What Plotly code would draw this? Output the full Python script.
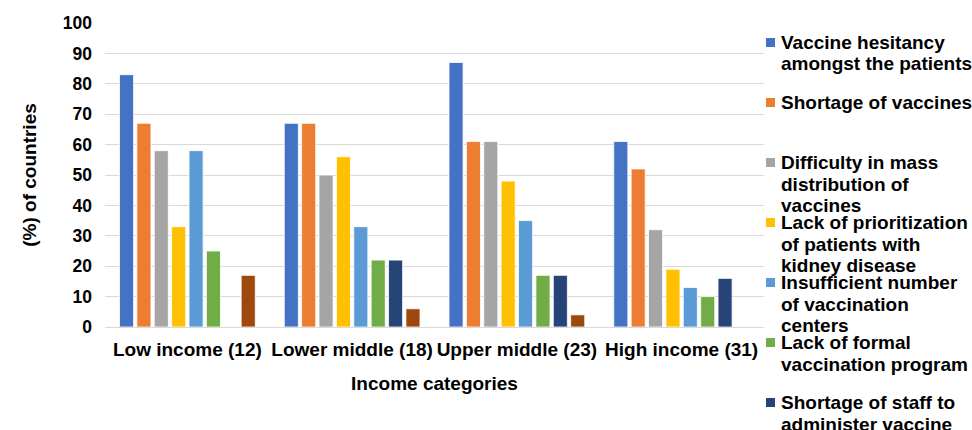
import plotly.graph_objects as go

categories = ["Low income (12)", "Lower middle (18)", "Upper middle (23)", "High income (31)"]

series_names = [
    "Vaccine hesitancy amongst the patients",
    "Shortage of vaccines",
    "Difficulty in mass distribution of vaccines",
    "Lack of prioritization of patients with kidney disease",
    "Insufficient number of vaccination centers",
    "Lack of formal vaccination program",
    "Shortage of staff to administer vaccine",
    "Other",
]

legend_lines = [
    ["Vaccine hesitancy", "amongst the patients"],
    ["Shortage of vaccines"],
    ["Difficulty in mass", "distribution of", "vaccines"],
    ["Lack of prioritization", "of patients with", "kidney disease"],
    ["Insufficient number", "of vaccination", "centers"],
    ["Lack of formal", "vaccination program"],
    ["Shortage of staff to", "administer vaccine"],
]

vaccine_hesitancy = [83, 67, 87, 61]
shortage_vaccines = [67, 67, 61, 52]
mass_distribution = [58, 50, 61, 32]
lack_prioritization = [33, 56, 48, 19]
insufficient_centers = [58, 33, 35, 13]
lack_formal_program = [25, 22, 17, 10]
shortage_staff = [0, 22, 17, 16]
other = [17, 6, 4, 0]

series_values = [vaccine_hesitancy, shortage_vaccines, mass_distribution, lack_prioritization,
                 insufficient_centers, lack_formal_program, shortage_staff, other]

colors = ["#4472C4", "#ED7D31", "#A5A5A5", "#FFC000", "#5B9BD5", "#70AD47", "#264478", "#9E480E"]

y_ticks = list(range(0, 101, 10))

W, H = 972, 430
ML, MR, MT, MB = 105, 208, 23, 103
FONT = "Liberation Sans, Arial, sans-serif"

fig = go.Figure()
for name, vals, col in zip(series_names, series_values, colors):
    fig.add_trace(go.Bar(
        x=categories, y=vals, name=name,
        marker=dict(color=col, line=dict(color="white", width=0.8)),
        showlegend=False,
    ))

# manual legend (Excel-style spacing)
pw = W - ML - MR
ph = H - MT - MB
entry_top = 42.5
entry_step = 60.0
line_step = 21.5
for i, lines in enumerate(legend_lines):
    y0 = entry_top + i * entry_step
    fig.add_shape(type="rect", xref="paper", yref="paper",
                  x0=(766 - ML) / pw, x1=(775 - ML) / pw,
                  y0=(H - MB - (y0 + 4.5)) / ph, y1=(H - MB - (y0 - 4.5)) / ph,
                  fillcolor=colors[i], line=dict(width=0))
    for k, ln in enumerate(lines):
        yy = y0 + k * line_step
        fig.add_annotation(text=ln, xref="paper", yref="paper",
                           x=(779 - ML) / pw, y=(H - MB - yy) / ph,
                           xanchor="left", yanchor="middle", showarrow=False,
                           font=dict(family=FONT, size=19, color="#000", weight="bold"))

fig.update_layout(
    width=W, height=H,
    margin=dict(l=ML, r=MR, t=MT, b=MB),
    barmode="group", bargap=0.156, bargroupgap=0.19,
    plot_bgcolor="white", paper_bgcolor="white",
    font=dict(family=FONT, color="#000"),
    xaxis=dict(
        showgrid=False, showline=False, ticks="",
        tickfont=dict(family=FONT, size=19, color="#000", weight="bold"),
        ticklabelstandoff=9,
        title=dict(text="Income categories", standoff=17,
                   font=dict(family=FONT, size=19, color="#000", weight="bold")),
        automargin=False,
    ),
    yaxis=dict(
        range=[0, 100], tickvals=y_ticks, ticktext=[str(v) for v in y_ticks],
        showgrid=True, gridcolor="#D9D9D9", gridwidth=1,
        zeroline=True, zerolinecolor="#D9D9D9", zerolinewidth=1,
        showline=False, ticks="",
        tickfont=dict(family=FONT, size=17.5, color="#000", weight="bold"),
        ticklabelstandoff=12,
        title=dict(text="(%) of countries", standoff=21,
                   font=dict(family=FONT, size=19, color="#000", weight="bold")),
        automargin=False,
    ),
)

fig.write_html("out.html")
